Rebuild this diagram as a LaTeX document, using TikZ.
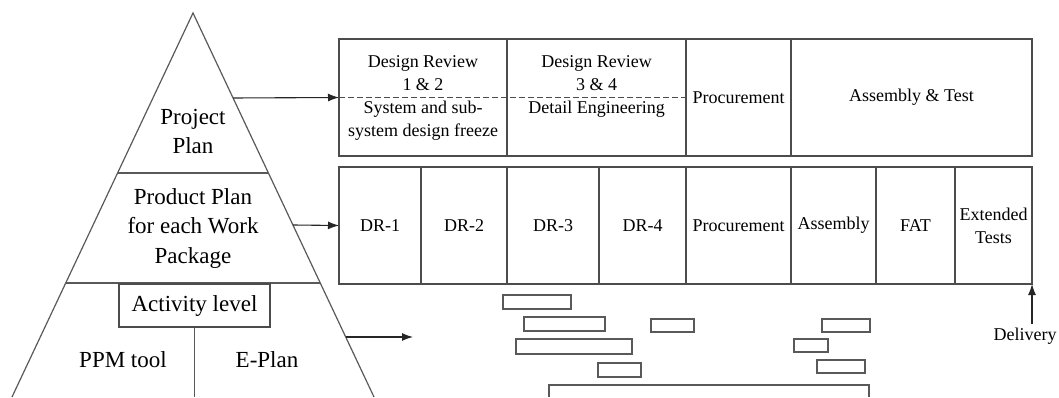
\documentclass[tikz,border=0pt]{standalone}
\usepackage{fontspec}
\setmainfont{Liberation Serif}
\usetikzlibrary{calc,positioning,arrows.meta}
\tikzset{
    every node/.style={
        font=\fontsize{18}{23}\selectfont
    },
    cell/.style={
        shape=rectangle,
        draw=black!70,
        line width=1.2pt,
        minimum height=117pt,
        inner sep=0pt,
        outer sep=0pt,
        align=center
    },
    level/.style={
        align=center,
        font=\fontsize{23}{29.5}\selectfont
    },
    pyr/.style={draw=black!65, line width=1.2pt},
    bar/.style={draw=black!65, line width=1.2pt},
    conn/.style={-{Latex[length=11pt,width=8pt]}, line width=1.1pt, draw=black!85}
}

\begin{document}
\begin{tikzpicture}[x=1pt,y=1pt]
    \useasboundingbox (0,0) rectangle (1059,397);
    % Pyramid
    \coordinate (apex) at (193,384);
    \coordinate (bl) at (12,0);
    \coordinate (br) at (374,0);
    \draw[pyr] (bl) -- (apex) -- (br);
    \draw[pyr] ($(apex)!{160/384}!(bl)$) -- ($(apex)!{160/384}!(br)$);
    \draw[pyr] ($(apex)!{270/384}!(bl)$) -- ($(apex)!{270/384}!(br)$);
    \node[level] (proj) at (193,265.5) {Project\\Plan};
    \node[level] (prod) at (193,168.5) {Product Plan\\for each Work\\Package};
    \node[level, draw=black!70, line width=1.2pt, minimum width=151pt, minimum height=43pt, inner sep=0pt] (act) at (194.5,91.5) {Activity level};
    \draw[pyr] (act.south) -- (act.south |- bl);
    \node[level] (ppm) at (123,37) {PPM tool};
    \node[level] (eplan) at (267,37) {E-Plan};
    \coordinate (t1) at ($(apex)!{85/384}!(br)$);
    \coordinate (t2) at ($(apex)!{212/384}!(br)$);
    \coordinate (t3) at ($(apex)!{324/384}!(br)$);
    % Project plan row
    \node[cell, minimum width=168pt] (dr12) at (423,299.5) {Design Review\\1 \& 2\\System and sub-\\system design freeze};
    \node[cell, minimum width=179pt, right=0pt of dr12] (dr34) {};
    \node[align=center] (dr34txt) at ($(dr34.center)+(0,11)$) {Design Review\\3 \& 4\\Detail Engineering};
    \node[cell, minimum width=105pt, right=0pt of dr34] (proc1) {Procurement};
    \node[cell, minimum width=241pt, right=0pt of proc1] (asmtest) {Assembly \& Test};
    % Product plan row
    \node[cell, minimum width=82pt] (dr1) at (380,171.5) {DR-1};
    \node[cell, minimum width=86pt, right=0pt of dr1] (dr2) {DR-2};
    \node[cell, minimum width=92pt, right=0pt of dr2] (dr3) {DR-3};
    \node[cell, minimum width=87pt, right=0pt of dr3] (dr4) {DR-4};
    \node[cell, minimum width=105pt, right=0pt of dr4] (proc2) {Procurement};
    \node[cell, minimum width=85pt, right=0pt of proc2] (asm) {Assembly};
    \node[cell, minimum width=79pt, right=0pt of asm] (fat) {FAT};
    \node[cell, minimum width=77pt, right=0pt of fat] (ext) {Extended\\Tests};
    % Activity bars
    \foreach \xa/\ya/\xb/\yb in {503/88/571/102, 524/66/605/80, 651/65/694/78,
        516/43/632/58, 598/20/641/34, 822/65/870/78, 794/45/828/58, 817/24/865/37}
        \draw[bar] (\xa,\ya) rectangle (\xb,\yb);
    \draw[bar] (549,0) |- (869,12) -- (869,0);
    % Connectors
    \draw[conn] (t1) -- (dr12.west);
    \draw[dashed, dash pattern=on 6pt off 3pt, line width=1pt, draw=black!70] (dr12.west) -- (proc1.west);
    \draw[conn] (t2) -- (dr1.west);
    \coordinate (gantt) at (413,60);
    \draw[conn] (t3) -- (gantt);
    \node (deliv) at (1025,61) {Delivery};
    \draw[conn] (ext.south east |- deliv.north) -- (ext.south east);
\end{tikzpicture}
\end{document}
